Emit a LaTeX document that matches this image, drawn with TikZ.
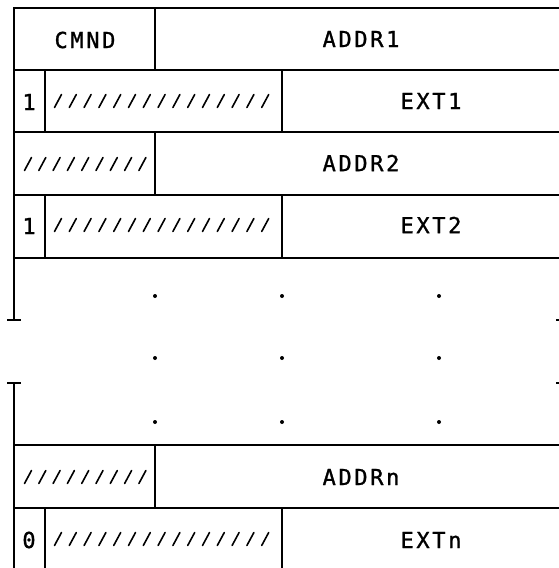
\documentclass[tikz,border=0pt]{standalone}
\usepackage{fontspec}
\setmainfont{DejaVu Sans Mono}[LetterSpace=12,FakeBold=1.2]
\usepackage{tikz}

\tikzset{
  rule/.style={line width=1.8pt},
  lbl/.style={font=\fontsize{22}{22}\selectfont, inner sep=0pt},
  hatch/.style={line width=1.6pt, line cap=round},
  gap/.style={fill=black, circle, inner sep=0pt, minimum size=4pt}
}

\begin{document}
\begin{tikzpicture}[x=1pt,y=-1pt]
    \useasboundingbox (0,0) rectangle (559,568);
    \clip (0,0) rectangle (559,568);

    % upper part of the list
    \draw[rule] (14,320) -- (14,8) -- (570,8);
    \draw[rule] (14,70) -- (570,70);
    \draw[rule] (14,132) -- (570,132);
    \draw[rule] (14,195) -- (570,195);
    \draw[rule] (14,258) -- (570,258);
    \draw[rule] (7,320) -- (21,320);
    \draw[rule] (155,8) -- (155,70);
    \draw[rule] (45,70) -- (45,132);
    \draw[rule] (282,70) -- (282,132);
    \draw[rule] (155,132) -- (155,195);
    \draw[rule] (45,195) -- (45,258);
    \draw[rule] (282,195) -- (282,258);

    % lower part of the list
    \draw[rule] (7,383) -- (21,383);
    \draw[rule] (14,383) -- (14,570);
    \draw[rule] (14,445) -- (570,445);
    \draw[rule] (14,508) -- (570,508);
    \draw[rule] (155,445) -- (155,508);
    \draw[rule] (45,508) -- (45,570);
    \draw[rule] (282,508) -- (282,570);

    % right border ticks (cut off)
    \draw[rule] (556,320) -- (572,320);
    \draw[rule] (556,383) -- (572,383);

    \node[lbl] (cmnd) at (85,40) {CMND};
    \node[lbl] (addr1) at (361,39) {ADDR1};
    \node[lbl] (bit1) at (29,102) {1};
    \node[lbl] (ext1) at (431,101) {EXT1};
    \node[lbl] (addr2) at (361,163) {ADDR2};
    \node[lbl] (bit2) at (29,226) {1};
    \node[lbl] (ext2) at (431,225) {EXT2};
    \node[lbl] (addrn) at (361,477) {ADDRn};
    \node[lbl] (bitn) at (29,540) {0};
    \node[lbl] (extn) at (431,540) {EXTn};

    % unused fields
    \foreach \y in {101,225,539}
      \foreach \i in {0,...,14}
        \draw[hatch] (58+14.8*\i-3.5,\y+6.5) -- (58+14.8*\i+3.5,\y-6.5);
    \foreach \y in {164,477}
      \foreach \i in {0,...,8}
        \draw[hatch] (28+14.3*\i-3.5,\y+6.5) -- (28+14.3*\i+3.5,\y-6.5);

    % continuation dots
    \foreach \y [count=\r] in {296,358,422}
      \foreach \x [count=\c] in {155,282,439}
        \node[gap] (dot\r\c) at (\x,\y) {};
\end{tikzpicture}
\end{document}
